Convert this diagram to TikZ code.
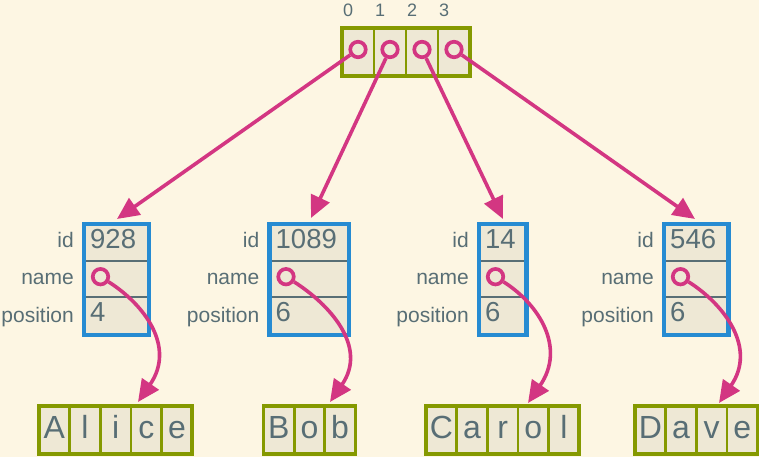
\documentclass[tikz,border=0pt]{standalone}
\usepackage{fontspec}
\setmainfont{Liberation Sans}
\usetikzlibrary{arrows.meta}
\definecolor{bg}{HTML}{FDF6E3}
\definecolor{cellbg}{HTML}{EEE8D5}
\definecolor{olive}{HTML}{859900}
\definecolor{sblue}{HTML}{268BD2}
\definecolor{mag}{HTML}{D33682}
\definecolor{txt}{HTML}{586E75}
\tikzset{
  strcell/.style={draw=olive, fill=cellbg, line width=2.7pt, inner sep=0pt, outer sep=0pt,
    minimum width=30.65pt, minimum height=48pt, text=txt,
    font=\fontsize{32}{36}\selectfont, text height=16.6pt, text depth=0pt},
  arrcell/.style={draw=olive, fill=cellbg, line width=2.7pt, inner sep=0pt, outer sep=0pt,
    minimum width=32pt, minimum height=47.4pt},
  outerframe/.style={draw=olive, line width=3.7pt},
  idx/.style={anchor=base, text=txt, font=\fontsize{18}{20}\selectfont, inner sep=0pt},
  structbox/.style={draw=sblue, fill=cellbg, line width=4.6pt, inner sep=0pt, outer sep=0pt,
    minimum height=111pt},
  divline/.style={draw=txt, line width=1.3pt},
  lbl/.style={anchor=base east, text=txt, font=\fontsize{21}{24}\selectfont, inner sep=0pt},
  val/.style={anchor=base west, text=txt, font=\fontsize{27.5}{30}\selectfont, inner sep=0pt},
  ptr/.style={circle, draw=mag, line width=3.7pt, inner sep=0pt, minimum size=15.5pt},
  ptrline/.style={draw=mag, line width=3.6pt, -{Triangle[length=22pt,width=20pt]}},
}
\newcommand\drawstr[4]{% prefix, left x, list, count
  \foreach \ch [count=\i] in {#3} {
    \node[strcell] (#1\i) at ({#2 + (\i-0.5)*30.65}, 27) {\ch};
  }
  \draw[outerframe] (#11.north west) rectangle (#1#4.south east);
}
\newcommand\mystruct[5]{% name, left, right, id, position
  \node[structbox, minimum width={#3-#2}] (s#1) at ({(#2+#3)/2}, 177.5) {};
  \draw[divline] ({#2+2.3},196) -- ({#3-2.3},196);
  \draw[divline] ({#2+2.3},160) -- ({#3-2.3},160);
  \node[lbl] (l#1id) at ({#2-10},209) {id};
  \node[lbl] (l#1name) at ({#2-10},172) {name};
  \node[lbl] (l#1pos) at ({#2-10},134.3) {position};
  \node[val] (v#1id) at ({#2+6},208) {#4};
  \node[val] (v#1pos) at ({#2+6},135) {#5};
  \node[ptr] (n#1) at ({#2+16.5},180.3) {};
}
\begin{document}
\begin{tikzpicture}[x=1pt,y=1pt]
\useasboundingbox (0,0) rectangle (759,457);
\fill[bg] (0,0) rectangle (759,457);

% top array
\foreach \i in {0,1,2,3} {
  \node[arrcell] (c\i) at ({358+32*\i},405) {};
  \node[idx] (i\i) at ({348+32*\i},440.3) {\i};
}
\draw[outerframe] (c0.north west) rectangle (c3.south east);
\foreach \i in {0,1,2,3} {
  \node[ptr] (p\i) at ({358+32*\i},407.5) {};
}

% structs
\mystruct{A}{84}{149}{928}{4}
\mystruct{B}{269.5}{349}{1089}{6}
\mystruct{C}{479}{526.5}{14}{6}
\mystruct{D}{664}{728.5}{546}{6}

% strings
\drawstr{a}{39}{A,l,i,c,e}{5}
\drawstr{b}{263.5}{B,o,b}{3}
\drawstr{c}{426}{C,a,r,o,l}{5}
\drawstr{d}{635}{D,a,v,e}{4}

% arrow targets
\coordinate (tA) at (117,238);
\coordinate (tB) at (311,239);
\coordinate (tC) at (503,238);
\coordinate (tD) at (695,238);
\coordinate (aA) at (138,55);
\coordinate (aB) at (330,55);
\coordinate (aC) at (528,54);
\coordinate (aD) at (719,54);

\draw[ptrline] (p0) -- (tA);
\draw[ptrline] (p1) -- (tB);
\draw[ptrline] (p2) -- (tC);
\draw[ptrline] (p3) -- (tD);

\foreach \s/\t in {nA/aA, nB/aB, nC/aC, nD/aD} {
  \draw[ptrline] (\s) .. controls +(-32.5:52) and +(55.4:67) .. (\t);
}
\end{tikzpicture}
\end{document}
